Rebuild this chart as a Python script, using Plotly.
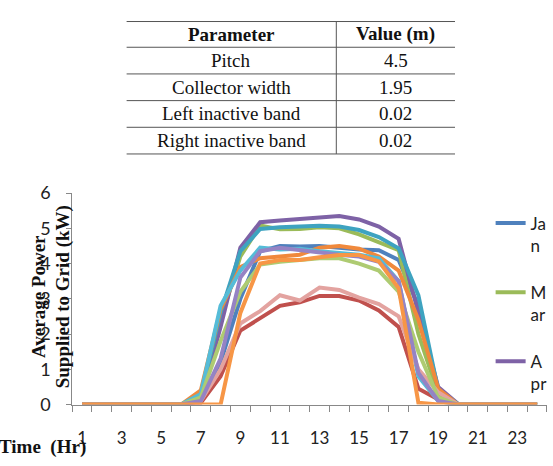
import plotly.graph_objects as go

W, H = 553, 466

# ---------------- data ----------------
hours = list(range(1, 25))
tick_hours = [1, 3, 5, 7, 9, 11, 13, 15, 17, 19, 21, 23]

table_header = ["Parameter", "Value (m)"]
param_names = ["Pitch", "Collector width", "Left inactive band", "Right inactive band"]
param_values = ["4.5", "1.95", "0.02", "0.02"]

jan = [0, 0, 0, 0, 0, 0, 0.1, 1.2, 3.0, 4.35, 4.5, 4.48, 4.5, 4.45, 4.4, 4.38, 4.1, 2.8, 0.3, 0, 0, 0, 0, 0]
feb = [0, 0, 0, 0, 0, 0, 0.05, 0.8, 2.1, 2.45, 2.8, 2.9, 3.08, 3.08, 2.95, 2.67, 2.2, 0.45, 0.15, 0, 0, 0, 0, 0]
mar = [0, 0, 0, 0, 0, 0, 0.2, 2.4, 4.2, 5.08, 4.97, 4.98, 5.03, 5.0, 4.83, 4.6, 4.38, 2.0, 0.3, 0, 0, 0, 0, 0]
apr = [0, 0, 0, 0, 0, 0, 0.15, 2.2, 4.45, 5.17, 5.22, 5.27, 5.32, 5.35, 5.25, 5.05, 4.7, 2.6, 0.5, 0.02, 0, 0, 0, 0]
may = [0, 0, 0, 0, 0, 0, 0.25, 2.6, 4.35, 4.98, 5.03, 5.05, 5.07, 5.05, 4.95, 4.75, 4.43, 3.1, 0.4, 0.02, 0, 0, 0, 0]
jun = [0, 0, 0, 0, 0, 0, 0.4, 2.7, 3.9, 4.15, 4.2, 4.25, 4.45, 4.5, 4.42, 4.2, 3.8, 2.4, 0.45, 0, 0, 0, 0, 0]
jul = [0, 0, 0, 0, 0, 0, 0.3, 2.8, 3.8, 4.45, 4.4, 4.42, 4.35, 4.3, 4.25, 4.15, 3.5, 0.8, 0.1, 0, 0, 0, 0, 0]
aug = [0, 0, 0, 0, 0, 0, 0.1, 1.0, 2.3, 2.65, 3.1, 2.95, 3.32, 3.25, 3.03, 2.85, 2.5, 1.0, 0.35, 0, 0, 0, 0, 0]
sep = [0, 0, 0, 0, 0, 0, 0.2, 1.8, 3.2, 3.97, 4.05, 4.1, 4.15, 4.15, 4.0, 3.8, 3.2, 1.5, 0.2, 0, 0, 0, 0, 0]
oct_ = [0, 0, 0, 0, 0, 0, 0.1, 1.3, 3.6, 4.35, 4.45, 4.38, 4.3, 4.25, 4.2, 4.05, 3.5, 0.9, 0.1, 0, 0, 0, 0, 0]
nov = [0, 0, 0, 0, 0, 0, 0, 0, 2.6, 4.0, 4.1, 4.1, 4.18, 4.24, 4.24, 4.06, 3.3, 0.05, 0, 0, 0, 0, 0, 0]

series = [
    ("Ja<br>n", jan, "#4F81BD", True),
    ("Feb", feb, "#C0504D", False),
    ("M<br>ar", mar, "#9BBB59", True),
    ("A<br>pr", apr, "#7E62A6", True),
    ("May", may, "#3EA3C0", False),
    ("Jun", jun, "#F0893C", False),
    ("Jul", jul, "#55BCD8", False),
    ("Aug", aug, "#E3A3A0", False),
    ("Sep", sep, "#AECB72", False),
    ("Oct", oct_, "#9583C4", False),
    ("Nov", nov, "#F79646", False),
]

fig = go.Figure()

# ---------------- lines ----------------
for i, (name, vals, col, show) in enumerate(series):
    fig.add_trace(go.Scatter(
        x=hours, y=vals, mode="lines", name=name,
        line=dict(color=col, width=4),
        showlegend=show, legendgroup="g%d" % i,
    ))

# ---------------- table (text from arrays, rule lines as layout shapes) ----------------
TL, TR, TD = 128, 460, 340          # left edge, right edge, column divider (px)
TTOP, HDR_H, ROW_H = 10, 27, 28     # top, header height, row height (px)
col_centers = [(TL + TD) / 2, (TD + TR) / 2]

def py(pix):
    return 1 - pix / H

def px(pix):
    return pix / W

annotations = []
shapes = []
rows = [["<b>%s</b>" % t for t in table_header]] + [[a, b] for a, b in zip(param_names, param_values)]
edges = [TTOP, TTOP + HDR_H] + [TTOP + HDR_H + ROW_H * (k + 1) for k in range(len(param_names))]
for r, row in enumerate(rows):
    yc = (edges[r] + edges[r + 1]) / 2
    for c, txt in enumerate(row):
        annotations.append(dict(text=txt, x=px(col_centers[c]), y=py(yc), xref="paper", yref="paper",
                                xanchor="center", yanchor="middle", showarrow=False,
                                font=dict(family="Liberation Serif", size=19, color="#111111")))
for e in edges:
    shapes.append(dict(type="line", xref="paper", yref="paper", x0=px(TL), x1=px(TR), y0=py(e), y1=py(e),
                       line=dict(color="#555555", width=1)))
shapes.append(dict(type="line", xref="paper", yref="paper", x0=px(TD), x1=px(TD), y0=py(edges[0]), y1=py(edges[-1]),
                   line=dict(color="#555555", width=1)))

annotations += [
    dict(text="<b>Average Power<br>Supplied to Grid (kW)</b>", textangle=-90,
         x=px(52), y=py(299), xref="paper", yref="paper",
         xanchor="center", yanchor="middle", showarrow=False,
         font=dict(family="Liberation Serif", size=19, color="#111111")),
    dict(text="<b>Time\u00a0 (Hr)</b>", x=px(-3), y=0, yshift=-4,
         xref="paper", yref="paper", xanchor="left", yanchor="bottom",
         showarrow=False,
         font=dict(family="Liberation Serif", size=19, color="#111111")),
]

x0, x1 = 73 / W, 553 / W
y0, y1 = (H - 412) / H, (H - 190) / H

fig.update_layout(
    width=W, height=H,
    margin=dict(l=0, r=0, t=0, b=0),
    paper_bgcolor="white", plot_bgcolor="white",
    font=dict(family="Lato", size=17, color="#222222"),
    xaxis=dict(domain=[x0, x1], range=[0.5, 24.5], showgrid=False, zeroline=False,
               showline=True, linecolor="#888888", linewidth=1,
               tickmode="array", tickvals=tick_hours, ticktext=[str(t) for t in tick_hours],
               ticks="", ticklabelstandoff=18,
               minor=dict(tickmode="array", tickvals=[h + 0.5 for h in range(0, 25)],
                          ticks="outside", ticklen=6, tickcolor="#888888", showgrid=False),
               tickfont=dict(family="Lato", size=17, color="#222222")),
    yaxis=dict(domain=[y0, y1], range=[0, 6], dtick=1, showgrid=False, zeroline=False,
               showline=True, linecolor="#888888", linewidth=1,
               ticks="outside", ticklen=5, tickcolor="#888888", ticklabelstandoff=12,
               tickfont=dict(family="Lato", size=18, color="#222222")),
    legend=dict(x=496 / W, xanchor="left", y=1 - 203 / H, yanchor="top",
                bgcolor="rgba(0,0,0,0)", borderwidth=0, valign="top",
                tracegroupgap=22, font=dict(family="Lato", size=17, color="#222222")),
    annotations=annotations,
    shapes=shapes,
)

fig.write_html("out.html")
